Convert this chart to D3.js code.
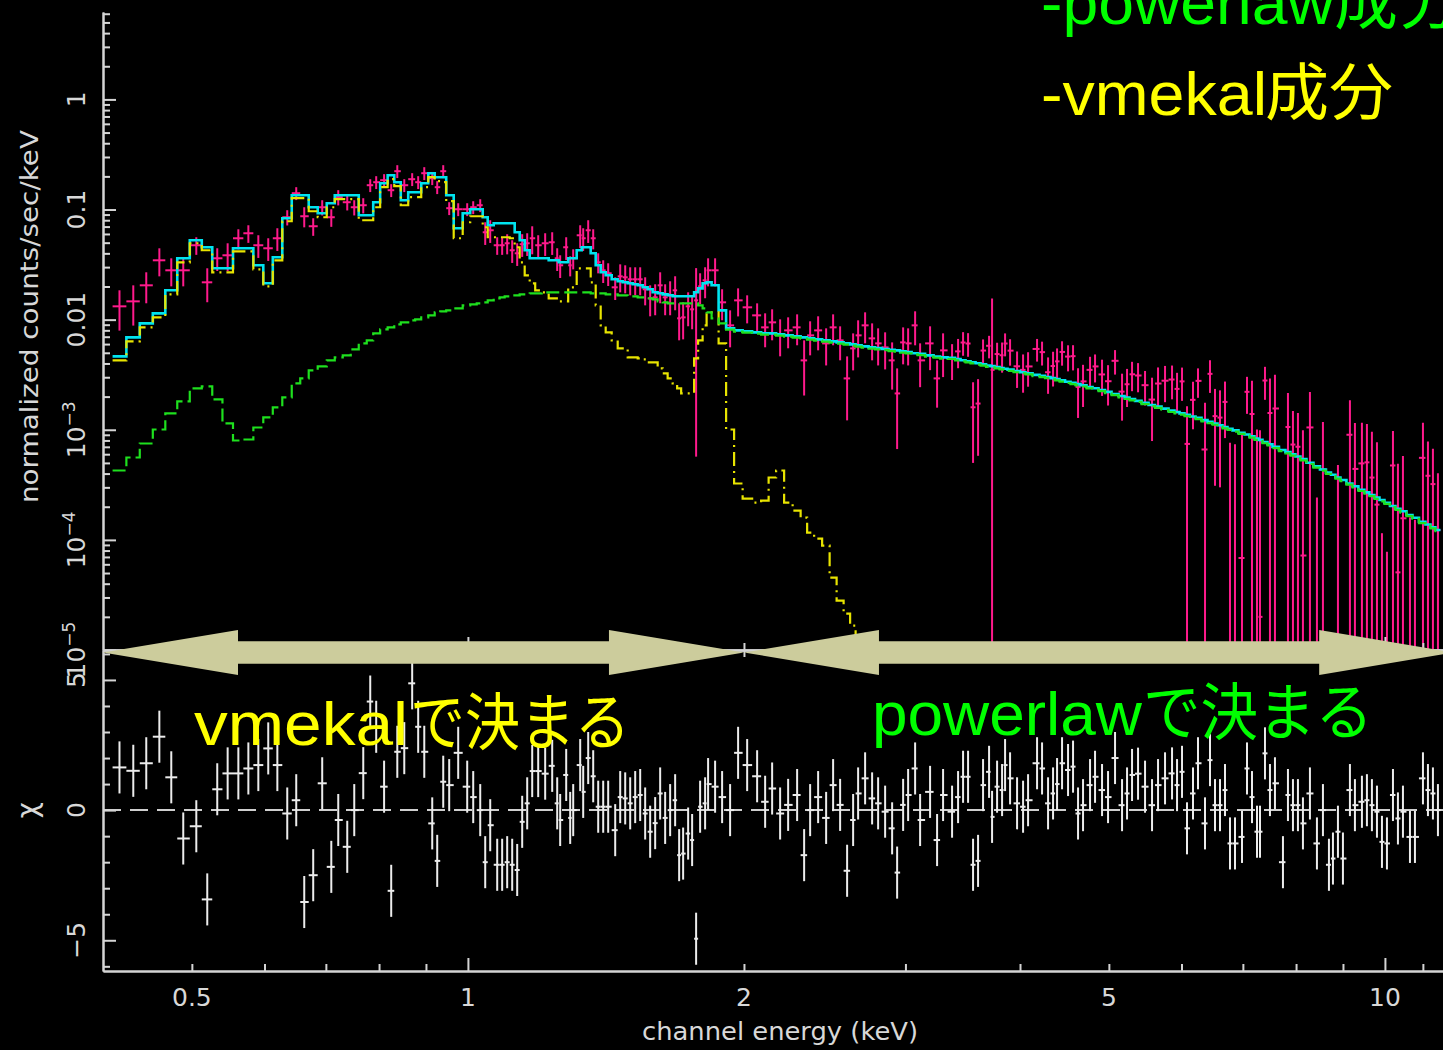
<!DOCTYPE html>
<html>
<head>
<meta charset="utf-8">
<script src="https://cdn.jsdelivr.net/npm/d3@7"></script>
<style>
  html, body { margin: 0; padding: 0; background: #000; }
  svg { display: block; }
</style>
</head>
<body>
<svg id="chart" width="1443" height="1050"></svg>
<script>
// ---- Spectrum bins: channel energy (keV) at bin centres ----
const energy = [
  0.4169,0.4316,0.4459,0.4608,0.4748,0.4893,0.5056,0.5197,0.5329,0.547,0.5619,0.5762,0.5908,0.6057,0.6197,0.6353,0.6498,0.663,0.6781,0.6936,
  0.7096,0.7221,0.7386,0.7517,0.7689,0.7825,0.7943,0.8102,0.8248,0.8375,0.8523,0.8694,0.8826,0.8962,0.9143,0.9258,0.9399,0.9541,0.9759,0.9982,
  1.0134,1.0314,
  1.0444,1.0576,1.0763,1.0898,1.1036,1.1176,1.1317,1.146,1.1605,1.1752,1.193,1.2141,1.2357,1.2513,1.2607,1.2799,1.2928,1.3026,1.3257,1.3357,
  1.3526,1.3697,1.387,1.4045,1.4222,1.4475,1.4658,1.4843,1.503,1.522,1.5412,1.5606,1.5803,1.6003,1.6205,1.6409,1.6616,1.6826,1.6996,1.7167,
  1.7384,1.7559,1.7736,1.7915,1.8141,1.8278,1.8602,1.8932,1.9316,1.9708,2.0161,2.0672,2.1092,2.1466,2.1901,2.2346,2.2856,2.3262,2.3615,2.4094,
  2.4583,2.5018,2.5462,2.5913,2.6307,2.6639,2.7111,2.7592,2.8011,2.8508,2.9014,2.938,2.9826,3.0203,3.0738,3.1126,3.1915,3.2481,3.2974,
  3.3727,3.4239,3.4671,3.5109,3.5552,3.6001,3.6456,3.701,3.729,3.7762,3.8239,3.8528,3.9014,3.9706,4.0309,4.0818,4.175,4.2277,4.2919,4.3461,
  4.39,4.4454,4.5128,4.5698,4.6275,4.6859,4.7691,4.8293,4.9149,4.9895,5.078,5.1681,5.2333,5.2994,5.3799,5.4753,5.5723,5.6569,5.7572,5.8593,
  5.9333,6.0082,6.084,6.1763,6.2543,6.3652,6.4456,6.5269,6.6093,6.6927,6.7772,6.8627,6.9845,7.0727,7.1619,7.2523,7.3071,7.3993,7.4927,7.5873,
  7.7412,7.8389,7.9379,8.038,8.1395,8.2838,8.4306,8.5587,8.6887,8.7765,8.8873,8.9994,9.1589,9.2745,9.4389,9.558,9.6787,9.802,9.9258,10.051,
  10.204,10.332,10.463,10.649,10.783,11.002,11.141,11.281,11.424
];

// ---- Observed rate (counts/sec/keV) and 1-sigma error ----
const counts = [
  0.01321,0.01466,0.0205,0.03459,0.02806,0.02806,0.04738,0.02183,0.03608,0.03842,0.05483,0.06088,0.04738,0.04448,0.05483,0.08511,0.1407,0.0869,0.0705,0.1049,
  0.08511,0.1294,0.1165,0.1049,0.1094,0.1663,0.1771,0.1847,0.1498,0.2229,0.1663,0.1886,0.1771,0.2138,0.1925,0.1595,0.2229,0.1028,0.1006,0.1006,
  0.1049,0.1094,
  0.06217,0.06483,0.04738,0.04738,0.04939,0.04266,0.04006,0.04842,0.04939,0.05483,0.04738,0.04939,0.05044,0.03608,0.03116,0.04543,0.03116,0.03608,0.05837,0.05483,
  0.06483,0.05483,0.03319,0.02806,0.02636,0.01966,0.02474,0.02424,0.02325,0.02325,0.02325,0.01886,0.01561,0.01595,0.0205,0.01595,0.01663,0.01847,0.01028,0.01049,
  0.01321,0.01241,0.01497,0.02008,0.02277,0.02806,0.02806,0.01437,0.008875,0.01497,0.01294,0.01094,0.008511,0.009451,0.007354,0.007993,0.008511,0.004266,0.007201,0.007993,
  0.006088,0.008511,0.006483,0.002927,0.005483,0.007201,0.008875,0.006761,0.006088,0.005601,0.004266,0.002138,0.006217,0.006088,0.008875,0.004266,0.006088,0.002927,0.005259,
  0.00441,0.00515,0.0062,0.00607,0.0016,0.00173,0.00524,0.00579,0.0035,0.00487,
  0.00475,0.00607,0.00523,0.00377,0.0035,0.00376,0.00542,0.00507,0.00333,0.00379,
  0.00418,0.00509,0.00462,0.00466,0.00245,0.00275,0.0035,0.00376,0.00318,0.00276,
  0.00423,0.00222,0.00259,0.00319,0.00311,0.00254,0.00188,0.00263,0.00279,0.00286,
  0.00235,0.00275,0.000744,0.00187,0.00278,0.000662,0.00322,0.00133,0.00129,0.00179,
  -0.000156,-0.00015,0.0000685,0.00221,0.00139,0.000004,0.00002,0.0028,0.00142,0.00156,
  -0.000917,0.00106,0.000734,0.000701,0.0000721,0.00105,-0.000547,0.000436,-0.00105,-0.000843,
  -0.000152,-0.000757,0.000901,0.000441,0.000495,0.000506,0.000368,0.000209,-0.000415,-0.000422,
  0.000474,0.0000507,0.000157,-0.00023,-0.000218,0.000556,0.000382,0.000321,0.000123
];
const countsErr = [
  0.00526,0.00583,0.00642,0.00986,0.008,0.008,0.00862,0.00744,0.00841,0.01095,0.01135,0.01108,0.01104,0.01036,0.01278,0.01345,0.01885,0.01799,0.01283,0.01657,
  0.01549,0.02045,0.01841,0.01657,0.01729,0.02228,0.02373,0.02475,0.02007,0.02987,0.02228,0.02527,0.02373,0.02865,0.0258,0.02137,0.02987,0.01378,0.01348,0.01348,
  0.01406,0.01466,
  0.01449,0.01511,0.00862,0.00862,0.01022,0.00994,0.00933,0.01128,0.01151,0.01563,0.01104,0.01151,0.01175,0.00841,0.00726,0.01058,0.00645,0.00747,0.0136,0.01278,
  0.01511,0.01135,0.00687,0.00654,0.00614,0.00458,0.00705,0.00691,0.00663,0.00663,0.00663,0.00538,0.00489,0.00499,0.00642,0.00499,0.00567,0.0063,0.00379,0.00387,
  0.0045,0.00423,0.0144,0.00629,0.00713,0.008,0.008,0.0045,0.00327,0.00427,0.00369,0.00312,0.0029,0.00296,0.00271,0.0025,0.00266,0.00222,0.00246,0.00273,
  0.00225,0.00266,0.00221,0.00171,0.00202,0.00266,0.00278,0.00249,0.00225,0.00207,0.00195,0.00147,0.00229,0.00225,0.00303,0.00183,0.00261,0.00134,0.00225,
  0.00158,0.00153,0.0015,0.00147,0.0011,0.00115,0.00137,0.00134,0.0121,0.0013,
  0.00145,0.00143,0.00141,0.00137,0.00133,0.0013,0.00126,0.00124,0.00121,0.00132,
  0.0013,0.00127,0.00123,0.0012,0.00117,0.00114,0.0011,0.00107,0.00115,0.0011,
  0.00106,0.00101,0.00098,0.00095,0.00092,0.00088,0.00109,0.00105,0.00101,0.00097,
  0.00094,0.00092,0.00089,0.00086,0.00083,0.0011,0.00106,0.00102,0.00099,0.00095,
  0.00092,0.00089,0.000845,0.000815,0.0014,0.001,0.00097,0.00093,0.0015,0.0016,
  0.00079,0.0011,0.00075,0.00072,0.00092,0.00115,0.00079,0.00074,0.00069,0.00066,
  0.00063,0.0006,0.00095,0.00071,0.00066,0.00062,0.00059,0.00056,0.00053,0.0005,
  0.0005,0.00044,0.00042,0.00039,0.00037,0.0006,0.0004,0.00035,0.00028
];

// ---- Folded model per bin: total, vmekal component, powerlaw component ----
const totalModel = [
  0.004638,0.006904,0.009254,0.01141,0.01847,0.03608,0.05259,0.04542,0.02927,0.02927,0.04448,0.04448,0.03116,0.02138,0.03684,0.08335,0.1349,0.1349,0.1049,0.09255,
  0.1141,0.1349,0.1349,0.1349,0.08875,0.08875,0.1165,0.1734,0.205,0.1771,0.1215,0.1436,0.1436,0.1734,0.2138,0.1966,0.1966,0.1349,0.06761,0.09255,
  0.1006,0.1006,
  0.08511,0.07199,0.07507,0.07507,0.07507,0.07507,0.06218,0.05259,0.04266,0.03608,0.03608,0.03608,0.0346,0.0346,0.03318,0.03318,0.03608,0.03608,0.04266,0.04542,
  0.04542,0.04006,0.03116,0.02692,0.02528,0.02325,0.02229,0.02183,0.02138,0.02094,0.0205,0.01966,0.01886,0.01771,0.01734,0.01698,0.01663,0.01629,0.01629,0.01629,
  0.01629,0.01629,0.01771,0.01925,0.02138,0.02183,0.0205,0.01215,
  0.008335,0.007993,0.007828,0.007666,0.007507,0.007507,0.007351,0.007199,0.00705,0.006904,0.006761,0.006621,0.006484,0.006349,0.006218,0.006089,0.005963,0.005839,0.005718,0.0056,
  0.005519,0.005413,0.005315,0.005259,0.00515,0.005074,0.004958,0.004884,0.004737,0.004629,0.004544,
  0.004505,0.004384,0.004284,0.004195,0.0041,0.004015,0.003924,0.003826,0.003786,0.003707,
  0.00363,0.003585,0.003518,0.003417,0.003331,0.003261,0.003149,0.00309,0.003013,0.002944,
  0.002884,0.002812,0.002731,0.002663,0.002597,0.002533,0.002444,0.002383,0.002296,0.00221,
  0.002114,0.002025,0.001962,0.001902,0.001831,0.001753,0.001677,0.001622,0.001555,0.001492,
  0.001449,0.001408,0.001366,0.001321,0.001283,0.001223,0.00118,0.001138,0.001098,0.00106,
  0.001023,0.0009875,0.000939,0.000906,0.000871,0.000832,0.000809,0.000773,0.000738,0.000699,
  0.000655,0.000626,0.000598,0.000571,0.000542,0.000502,0.000465,0.000436,0.000408,0.00039,
  0.000369,0.00035,0.000325,0.000307,0.000285,0.00027,0.000256,0.000242,0.00023,0.000217,
  0.000203,0.000192,0.000182,0.000168,0.000159,0.000146,0.000138,0.00013,0.000123
];
const vmekalModel = [
  0.004266,0.006349,0.008511,0.01049,0.01698,0.03318,0.04939,0.04266,0.02692,0.02692,0.04177,0.04177,0.02866,0.02008,0.0346,0.07828,0.1267,0.1267,0.0965,0.08511,
  0.1049,0.1241,0.1241,0.1241,0.07993,0.07993,0.1049,0.1595,0.1886,0.1629,0.1094,0.1294,0.1294,0.1595,0.1966,0.1808,0.1771,0.119,0.05484,0.07666,
  0.08691,0.08691,
  0.06904,0.056,0.056,0.056,0.056,0.05484,0.04542,0.03318,0.02528,0.02138,0.01847,0.01771,0.01562,0.01562,0.01467,0.01467,0.01966,0.01966,0.02927,0.02927,
  0.02927,0.02183,0.01349,0.008875,0.007666,0.006484,0.005484,0.005484,0.004542,0.004542,0.004448,0.004356,0.004091,0.004091,0.003608,0.00325,0.002927,0.002636,0.002374,0.002138,
  0.002138,0.002138,0.004448,0.006484,0.008875,0.01165,0.01165,0.006089,
  0.001006,0.000325,0.0002374,0.0002183,0.0002276,0.0003684,0.0004266,0.0002183,0.0001847,0.0001595,
  0.0001165,0.0001028,0.00008875,0.00004542,0.00002807,0.00002138,0.00001663,0.00001349,0.0000097,0.0000073
];
const powerlawModel = [
  0.0004266,0.00056,0.0007507,0.001006,0.001407,0.001808,0.002374,0.002475,0.001886,0.001141,0.0007993,0.0008162,0.001049,0.001294,0.001595,0.001966,0.002636,0.002927,0.00346,0.003762,
  0.004266,0.004542,0.004737,0.00537,0.006089,0.006484,0.007507,0.008162,0.008511,0.009063,0.00945,0.0098545,0.01006,0.01049,0.01094,0.01165,0.0119,0.01215,0.01267,0.01349,
  0.01377,0.01407,
  0.01436,0.01498,0.01562,0.01595,0.01629,0.01663,0.01663,0.01698,0.01698,0.01734,0.01734,0.01771,0.01771,0.01771,0.01771,0.01771,0.01771,0.01771,0.01771,0.01771,
  0.01771,0.01734,0.01734,0.01734,0.01698,0.01698,0.01663,0.01663,0.01629,0.01629,0.01595,0.01595,0.01562,0.0153,0.01467,0.01436,0.01407,0.01407,0.01407,0.01407,
  0.01407,0.01407,0.01407,0.01349,0.01267,0.01165,0.01028,0.009254,
  0.00813,0.00779,0.00763,0.00747,0.00732,0.00732,0.00717,0.00702,0.00687,0.00673,0.00659,0.00646,0.00632,0.00619,0.00606,0.00594,0.00581,0.00569,0.00558,0.00546,
  0.00538,0.00528,0.00518,0.00513,0.00502,0.00495,0.00483,0.00476,0.00462,0.00451,0.00443,
  0.00439,0.00427,0.00418,0.00409,0.004,0.00391,0.00383,0.00373,0.00369,0.00361,
  0.00354,0.0035,0.00343,0.00333,0.00325,0.00318,0.00307,0.00301,0.00294,0.00287,
  0.00281,0.00274,0.00266,0.0026,0.00253,0.00247,0.00238,0.00232,0.00224,0.00215,
  0.00206,0.00197,0.00191,0.00185,0.00179,0.00171,0.00164,0.00158,0.00152,0.00145,
  0.00141,0.00137,0.00133,0.00129,0.00125,0.00119,0.00115,0.00111,0.00107,0.00103,
  0.000997,0.000963,0.000916,0.000883,0.000849,0.000811,0.000789,0.000754,0.00072,0.000682,
  0.000639,0.00061,0.000583,0.000557,0.000528,0.000489,0.000453,0.000425,0.000398,0.00038,
  0.00036,0.000341,0.000317,0.000299,0.000278,0.000263,0.00025,0.000236,0.000224,0.000212,
  0.000198,0.000187,0.000177,0.000164,0.000155,0.000142,0.000135,0.000127,0.00012
];

// ---- Residuals (chi) per bin ----
const residual = [
  1.64,1.51,1.8,2.82,1.26,-1.09,-0.62,-3.43,0.8,1.41,1.41,1.6,1.73,2.37,1.73,-0.13,0.38,-3.53,-2.5,1.03,
  -2.18,-0.38,-1.41,0,1.42,4.17,3.2,0.9,-3.1,2.24,2.38,4.87,3.2,2.24,-0.51,-1.95,1.09,0.96,2.2,0.9,
  0.5,0,
  -2.0,-0.58,-2.1,-2.1,-2.0,-2.1,-2.3,-0.45,0.26,1.5,1.5,1.4,1.7,0.26,-0.38,1.35,-0.3,0,1.73,0.7,
  2.0,1.3,0.13,0.13,0.13,-0.77,0.5,0.45,0.26,0.5,0.58,-0.13,-0.83,-0.5,0.64,-0.3,0,0.38,-1.73,-1.67,
  -0.9,-1.15,-4.94,0.13,0.26,1.0,0.9,0.5,0,2.2,1.73,1.3,0.32,0.83,-0.13,0.2,0.58,-1.73,0,0.5,
  -0.3,0.96,0.2,-2.33,-0.38,0.64,1.22,0.45,0.26,-0.06,-0.7,-2.4,0.2,0.58,1.6,-0.38,0.7,-1.15,0.58,
  -0.06,0.5,1.28,1.28,-2.1,-1.95,0.96,1.47,-0.26,0.9,
  0.77,1.73,1.22,0.26,0.13,0.38,1.8,1.6,0.26,0.64,
  1.0,1.8,1.54,1.67,-0.13,0.19,0.96,1.28,0.77,0.5,
  2.0,0.19,0.64,1.35,1.4,0.9,0.19,0.96,1.22,1.41,
  0.96,1.47,-0.7,0.64,1.8,-0.51,1.92,0.19,0.19,0.77,
  -1.28,-1.28,-1.03,1.6,0.5,-0.83,-0.83,2.18,0.77,1.03,
  -2.0,0.58,0.19,0.19,-0.51,0.64,-1.28,0,-2.1,-1.86,
  -0.83,-1.86,0.77,0.19,0.32,0.38,0.19,-0.06,-1.22,-1.28,
  0.58,-0.32,-0.06,-1.03,-1.03,1.22,0.77,0.64,0
];

// ---- Axis ticks and labels ----
const xMajorTicks = [1, 10];
const xMinorTicks = [0.5, 0.6, 0.7, 0.8, 0.9, 2, 3, 4, 5, 6, 7, 8, 9, 11];
const xTickLabels = [[0.5, "0.5"], [1, "1"], [2, "2"], [5, "5"], [10, "10"]];
const yDecades = [1e-5, 1e-4, 1e-3, 0.01, 0.1, 1];
const yTickLabels = [[1, "1", null], [0.1, "0.1", null], [0.01, "0.01", null],
                     [1e-3, "10", "\u22123"], [1e-4, "10", "\u22124"], [1e-5, "10", "\u22125"]];
const resMajorTicks = [-5, 0, 5];
const resMinorTicks = [-6, -4, -3, -2, -1, 1, 2, 3, 4, 6];
const resTickLabels = [[5, "5"], [0, "0"], [-5, "\u22125"]];

// Energy ranges pointed out by the two double arrows (keV)
const arrowSpans = [[0.4, 2.0], [2.0, 11.9]];

// ---------------------------------------------------------------
const W = 1443, H = 1050;
const svg = d3.select("#chart");
svg.append("rect").attr("width", W).attr("height", H).attr("fill", "#000");

const x = d3.scaleLog().domain([0.4, 11.57]).range([103, 1443]);
const yTop = d3.scaleLog().domain([1e-5, 6.22]).range([650, 12]);
const yRes = d3.scaleLinear().domain([-6.18, 6.15]).range([971, 650]);
const floorVal = yTop.domain()[0] / 10;

// Bin edges: geometric midpoints between neighbouring centres
const n = energy.length;
const edges = [];
edges.push(energy[0] * energy[0] / Math.sqrt(energy[0] * energy[1]));
for (let i = 1; i < n; i++) edges.push(Math.sqrt(energy[i - 1] * energy[i]));
edges.push(energy[n - 1] * energy[n - 1] / Math.sqrt(energy[n - 2] * energy[n - 1]));

const defs = svg.append("defs");
defs.append("clipPath").attr("id", "clipTop").append("rect")
  .attr("x", x.range()[0]).attr("y", yTop.range()[1])
  .attr("width", W - x.range()[0]).attr("height", yTop.range()[0] - yTop.range()[1]);
defs.append("clipPath").attr("id", "clipRes").append("rect")
  .attr("x", x.range()[0]).attr("y", yRes.range()[1])
  .attr("width", W - x.range()[0]).attr("height", yRes.range()[0] - yRes.range()[1]);

const axisColor = "#d4d4d4";
const labelFont = "'DejaVu Sans', 'Liberation Sans', sans-serif";

// ---- Top panel: data crosses ----
const gData = svg.append("g").attr("clip-path", "url(#clipTop)")
  .attr("stroke", "#ff1a8c").attr("stroke-width", 2).attr("fill", "none");
for (let i = 0; i < n; i++) {
  const v = counts[i], s = countsErr[i];
  const hi = v + s, lo = v - s;
  if (hi <= 0) continue;
  const xc = x(energy[i]);
  gData.append("line").attr("x1", xc).attr("x2", xc)
    .attr("y1", yTop(lo > 0 ? lo : floorVal)).attr("y2", yTop(hi));
  if (v > 0) {
    gData.append("line").attr("x1", x(edges[i])).attr("x2", x(edges[i + 1]))
      .attr("y1", yTop(v)).attr("y2", yTop(v));
  }
}

// ---- Top panel: model step curves ----
function stepPoints(vals) {
  const pts = vals.map((v, i) => [edges[i], v]);
  pts.push([edges[vals.length], vals[vals.length - 1]]);
  return pts;
}
const stepLine = d3.line()
  .x(d => x(d[0]))
  .y(d => yTop(Math.max(d[1], floorVal)))
  .curve(d3.curveStepAfter);

const gModel = svg.append("g").attr("clip-path", "url(#clipTop)").attr("fill", "none");
gModel.append("path").attr("d", stepLine(stepPoints(totalModel)))
  .attr("stroke", "#00e4f0").attr("stroke-width", 2.6);
gModel.append("path").attr("d", stepLine(stepPoints(vmekalModel)))
  .attr("stroke", "#e8e400").attr("stroke-width", 2.2).attr("stroke-dasharray", "14,5,2,5");
gModel.append("path").attr("d", stepLine(stepPoints(powerlawModel)))
  .attr("stroke", "#1ee01e").attr("stroke-width", 2.2).attr("stroke-dasharray", "13,5");

// ---- Residual panel ----
svg.append("line").attr("clip-path", "url(#clipRes)")
  .attr("x1", x.range()[0]).attr("x2", W).attr("y1", yRes(0)).attr("y2", yRes(0))
  .attr("stroke", "#cfcfcf").attr("stroke-width", 2).attr("stroke-dasharray", "18,9");

const gRes = svg.append("g").attr("clip-path", "url(#clipRes)")
  .attr("stroke", "#ececec").attr("stroke-width", 2);
for (let i = 0; i < n; i++) {
  const r = residual[i];
  const xc = x(energy[i]);
  gRes.append("line").attr("x1", xc).attr("x2", xc).attr("y1", yRes(r - 1)).attr("y2", yRes(r + 1));
  gRes.append("line").attr("x1", x(edges[i])).attr("x2", x(edges[i + 1])).attr("y1", yRes(r)).attr("y2", yRes(r));
}

// ---- Axes ----
function styleAxis(g) {
  g.selectAll("path, line").attr("stroke", axisColor).attr("stroke-width", 2);
  g.selectAll("text").remove();
}
const yMinorVals = [];
yDecades.forEach(d => { for (let k = 2; k <= 9; k++) if (d * k < yTop.domain()[1]) yMinorVals.push(d * k); });

svg.append("g").attr("transform", `translate(${x.range()[0]},0)`)
  .call(d3.axisRight(yTop).tickValues(yDecades).tickSize(13).tickSizeOuter(0)).call(styleAxis);
svg.append("g").attr("transform", `translate(${x.range()[0]},0)`)
  .call(d3.axisRight(yTop).tickValues(yMinorVals).tickSize(7).tickSizeOuter(0)).call(styleAxis);
svg.append("g").attr("transform", `translate(${x.range()[0]},0)`)
  .call(d3.axisRight(yRes).tickValues(resMajorTicks).tickSize(13).tickSizeOuter(0)).call(styleAxis);
svg.append("g").attr("transform", `translate(${x.range()[0]},0)`)
  .call(d3.axisRight(yRes).tickValues(resMinorTicks).tickSize(7).tickSizeOuter(0)).call(styleAxis);

const xBottom = yRes.range()[0], xMid = yTop.range()[0];
svg.append("g").attr("transform", `translate(0,${xBottom})`)
  .call(d3.axisTop(x).tickValues(xMajorTicks).tickSize(13).tickSizeOuter(0)).call(styleAxis);
svg.append("g").attr("transform", `translate(0,${xBottom})`)
  .call(d3.axisTop(x).tickValues(xMinorTicks).tickSize(7).tickSizeOuter(0)).call(styleAxis);
svg.append("g").attr("transform", `translate(0,${xMid})`)
  .call(d3.axisTop(x).tickValues(xMajorTicks).tickSize(13).tickSizeOuter(0)).call(styleAxis);
svg.append("g").attr("transform", `translate(0,${xMid})`)
  .call(d3.axisTop(x).tickValues(xMinorTicks).tickSize(7).tickSizeOuter(0)).call(styleAxis);
svg.append("g").attr("transform", `translate(0,${xMid})`)
  .call(d3.axisBottom(x).tickValues(xMajorTicks).tickSize(13).tickSizeOuter(0)).call(styleAxis);
svg.append("g").attr("transform", `translate(0,${xMid})`)
  .call(d3.axisBottom(x).tickValues(xMinorTicks).tickSize(7).tickSizeOuter(0)).call(styleAxis);

// ---- Tick labels ----
const gLab = svg.append("g").attr("fill", "#d8d8d8").attr("font-family", labelFont).attr("font-size", 25);
xTickLabels.forEach(([v, t]) => {
  gLab.append("text").attr("x", x(v)).attr("y", 1006).attr("text-anchor", "middle").text(t);
});
yTickLabels.forEach(([v, base, sup]) => {
  const t = gLab.append("text").attr("transform", `translate(85,${yTop(v)}) rotate(-90)`)
    .attr("text-anchor", "middle");
  t.append("tspan").text(base);
  if (sup) t.append("tspan").attr("dy", -10).attr("font-size", 17).text(sup);
});
resTickLabels.forEach(([v, t]) => {
  gLab.append("text").attr("transform", `translate(85,${yRes(v)}) rotate(-90)`)
    .attr("text-anchor", "middle").text(t);
});

// ---- Axis titles ----
gLab.append("text").attr("transform", "translate(38,316.5) rotate(-90)")
  .attr("text-anchor", "middle").attr("font-size", 24)
  .attr("textLength", 373).attr("lengthAdjust", "spacingAndGlyphs")
  .text("normalized counts/sec/keV");
gLab.append("text").attr("transform", `translate(37,${yRes(0)}) rotate(-90)`)
  .attr("text-anchor", "middle").attr("font-size", 28).text("\u03c7");
gLab.append("text").attr("x", 642).attr("y", 1040).attr("font-size", 24)
  .attr("textLength", 276).attr("lengthAdjust", "spacingAndGlyphs")
  .text("channel energy (keV)");

// ---- Double arrows along the panel boundary ----
const arrowY = yTop.range()[0] + 2.5;
const headLen = 135, headHalf = 22.5, shaftHalf = 11.3;
arrowSpans.forEach(([e0, e1]) => {
  const a = x(e0), b = x(e1);
  const pts = [
    [a, arrowY], [a + headLen, arrowY - headHalf], [a + headLen, arrowY - shaftHalf],
    [b - headLen, arrowY - shaftHalf], [b - headLen, arrowY - headHalf], [b, arrowY],
    [b - headLen, arrowY + headHalf], [b - headLen, arrowY + shaftHalf],
    [a + headLen, arrowY + shaftHalf], [a + headLen, arrowY + headHalf]
  ];
  svg.append("polygon").attr("points", pts.map(p => p.join(",")).join(" "))
    .attr("fill", "#cccc9c");
});

// ---- Annotations ----
const latin = "'Liberation Sans', Arial, sans-serif";
const cjk = "'Noto Sans CJK JP', 'Noto Sans CJK SC', sans-serif";
function note(str, xPos, yPos, len, color, font) {
  svg.append("text").attr("x", xPos).attr("y", yPos)
    .attr("font-family", font).attr("font-size", 62).attr("fill", color)
    .attr("textLength", len).attr("lengthAdjust", "spacingAndGlyphs").text(str);
}
note("-powerlaw", 1041, 24, 293, "#00ff00", latin);
note("成分", 1334, 24, 128, "#00ff00", cjk);
note("-vmekal", 1041, 115, 226, "#ffff00", latin);
note("成分", 1265, 115, 128, "#ffff00", cjk);
note("vmekal", 194, 745, 214, "#ffff00", latin);
note("で決まる", 410, 745, 220, "#ffff00", cjk);
note("powerlaw", 872, 735, 270, "#00ff00", latin);
note("で決まる", 1143, 735, 230, "#00ff00", cjk);
</script>
</body>
</html>
